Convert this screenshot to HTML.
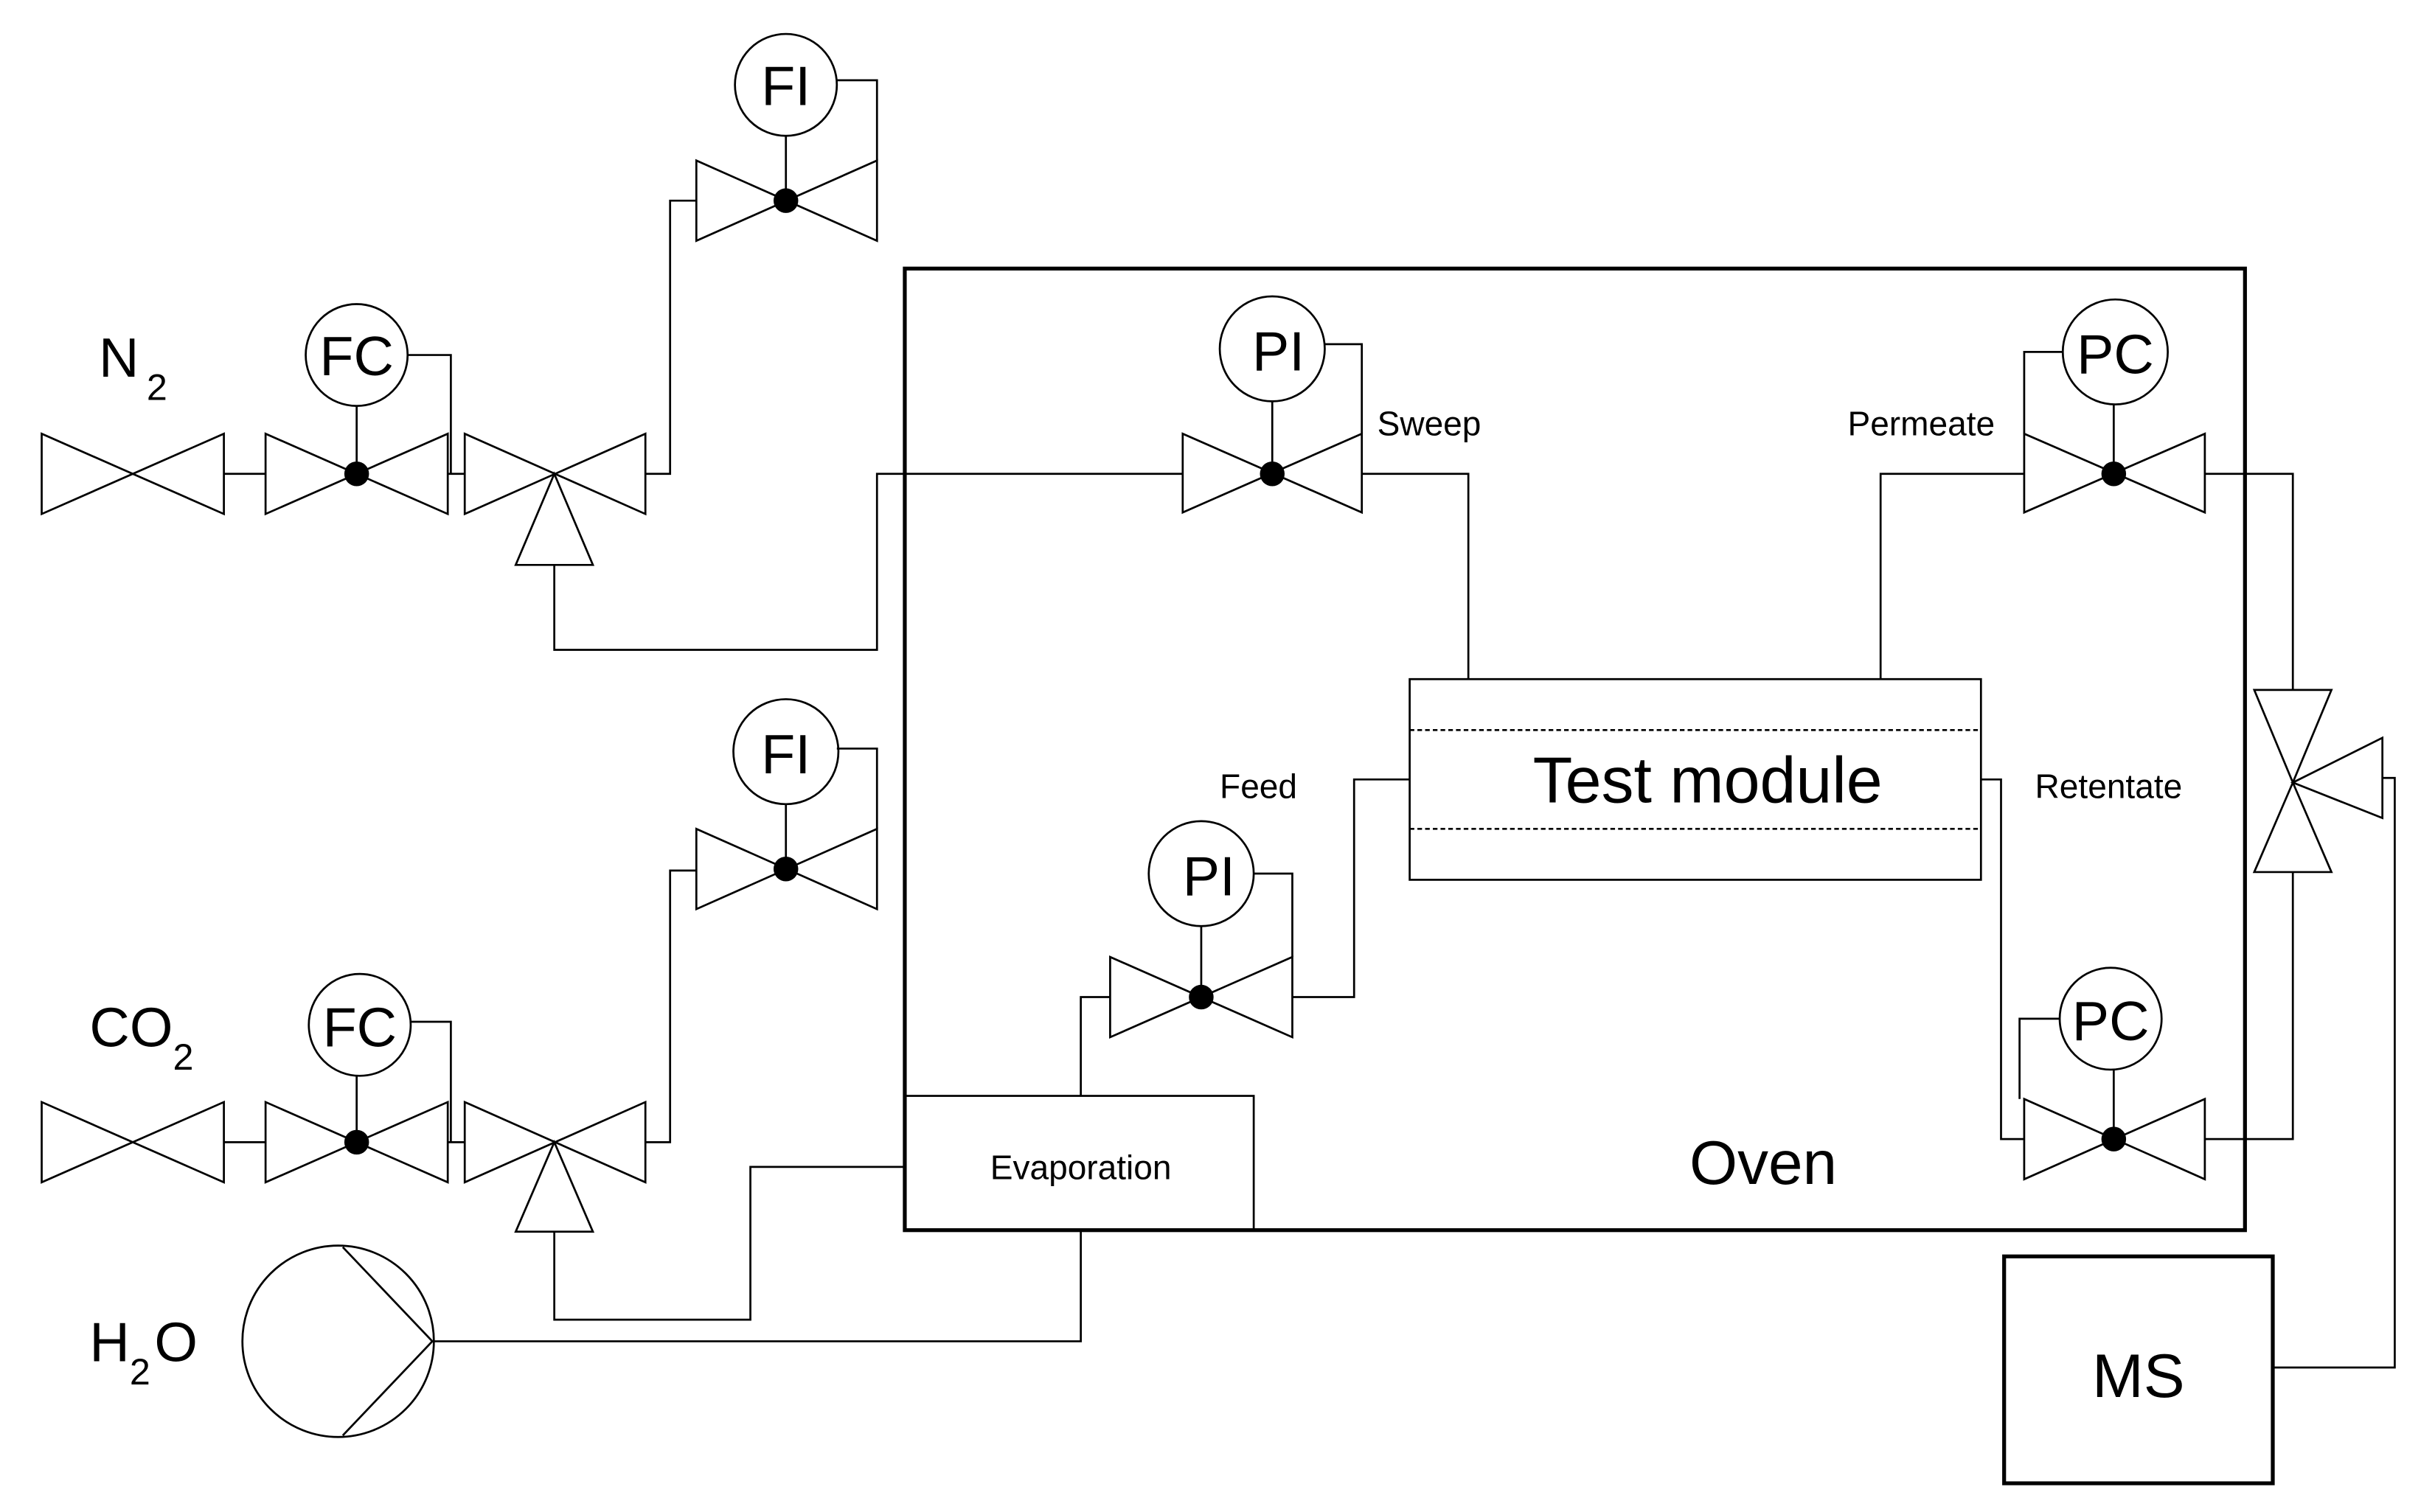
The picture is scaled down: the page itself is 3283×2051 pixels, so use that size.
<!DOCTYPE html>
<html><head><meta charset="utf-8"><style>
html,body{margin:0;padding:0;background:#fff;}
svg{display:block;}
text{font-family:"Liberation Sans",sans-serif;fill:#000;}
</style></head><body>
<svg width="3283" height="2051" viewBox="0 0 1568 979.6" preserveAspectRatio="none" xmlns="http://www.w3.org/2000/svg">
<g fill="none" stroke="#000" stroke-width="1.3">
<!-- N2 row -->
<path d="M27,281 L27,333 L145,281 L145,333 Z"/>
<line x1="145" y1="307" x2="172" y2="307"/>
<path d="M172,281 L172,333 L290,281 L290,333 Z"/>
<line x1="231" y1="263" x2="231" y2="307"/>
<circle cx="231" cy="230" r="33" fill="#fff"/>
<polyline points="264,230 292,230 292,307"/>
<line x1="290" y1="307" x2="301" y2="307"/>
<path d="M301,281 L301,333 L418,281 L418,333 Z"/>
<path d="M359,307 L334,366 L384,366 Z" fill="#fff"/>
<polyline points="418,307 434,307 434,130 451,130"/>
<path d="M451,104 L451,156 L568,104 L568,156 Z"/>
<line x1="509" y1="88" x2="509" y2="130"/>
<circle cx="509" cy="55" r="33" fill="#fff"/>
<polyline points="542,52 568,52 568,104"/>
<polyline points="359,366 359,421 568,421 568,307 766,307"/>
<!-- Sweep -->
<path d="M766,281 L766,332 L882,281 L882,332 Z"/>
<line x1="824" y1="260" x2="824" y2="307"/>
<circle cx="824" cy="226" r="34" fill="#fff"/>
<polyline points="858,223 882,223 882,281"/>
<polyline points="882,307 951,307 951,440"/>
<!-- Test module -->
<rect x="913" y="440" width="370" height="130"/>
<line x1="913" y1="473" x2="1283" y2="473" stroke-dasharray="3,2"/>
<line x1="913" y1="537" x2="1283" y2="537" stroke-dasharray="3,2"/>
<!-- Permeate -->
<polyline points="1218,440 1218,307 1311,307"/>
<path d="M1311,281 L1311,332 L1428,281 L1428,332 Z"/>
<line x1="1369" y1="262" x2="1369" y2="307"/>
<circle cx="1370" cy="228" r="34" fill="#fff"/>
<polyline points="1336,228 1311,228 1311,281"/>
<polyline points="1428,307 1485,307 1485,447"/>
<!-- vertical 3-way -->
<path d="M1460,447 L1510,447 L1485,507 Z"/>
<path d="M1460,565 L1510,565 L1485,507 Z"/>
<path d="M1543,478 L1543,530 L1485,507 Z"/>
<polyline points="1485,565 1485,738 1428,738"/>
<polyline points="1543,504 1551,504 1551,886 1472,886"/>
<!-- Retentate -->
<polyline points="1283,505 1296,505 1296,738 1311,738"/>
<path d="M1311,712 L1311,764 L1428,712 L1428,764 Z"/>
<line x1="1369" y1="693" x2="1369" y2="738"/>
<circle cx="1367" cy="660" r="33" fill="#fff"/>
<polyline points="1334,660 1308,660 1308,712"/>
<!-- Feed -->
<polyline points="913,505 877,505 877,646 837,646"/>
<path d="M719,620 L719,672 L837,620 L837,672 Z"/>
<line x1="778" y1="600" x2="778" y2="646"/>
<circle cx="778" cy="566" r="34" fill="#fff"/>
<polyline points="812,566 837,566 837,620"/>
<polyline points="719,646 700,646 700,710"/>
<rect x="586" y="710" width="226" height="87"/>
<!-- CO2 row -->
<path d="M27,714 L27,766 L145,714 L145,766 Z"/>
<line x1="145" y1="740" x2="172" y2="740"/>
<path d="M172,714 L172,766 L290,714 L290,766 Z"/>
<line x1="231" y1="697" x2="231" y2="740"/>
<circle cx="233" cy="664" r="33" fill="#fff"/>
<polyline points="266,662 292,662 292,740"/>
<line x1="290" y1="740" x2="301" y2="740"/>
<path d="M301,714 L301,766 L418,714 L418,766 Z"/>
<path d="M359,740 L334,798 L384,798 Z" fill="#fff"/>
<polyline points="418,740 434,740 434,564 451,564"/>
<path d="M451,537 L451,589 L568,537 L568,589 Z"/>
<line x1="509" y1="521" x2="509" y2="563"/>
<circle cx="509" cy="487" r="34" fill="#fff"/>
<polyline points="542,485 568,485 568,537"/>
<polyline points="359,798 359,855 486,855 486,756 586,756"/>
<!-- pump -->
<circle cx="219" cy="869" r="62"/>
<line x1="280" y1="869" x2="222" y2="808"/>
<line x1="280" y1="869" x2="222" y2="930"/>
<polyline points="280,869 700,869 700,797"/>
</g>
<g fill="none" stroke="#000" stroke-width="2.5">
<rect x="586" y="174" width="868" height="623"/>
<rect x="1298" y="814" width="174" height="147"/>
</g>
<g fill="#000">
<circle cx="231" cy="307" r="8"/>
<circle cx="509" cy="130" r="8"/>
<circle cx="824" cy="307" r="8"/>
<circle cx="1369" cy="307" r="8"/>
<circle cx="1369" cy="738" r="8"/>
<circle cx="778" cy="646" r="8"/>
<circle cx="231" cy="740" r="8"/>
<circle cx="509" cy="563" r="8"/>
</g>
<g font-size="36" text-anchor="middle">
<text x="231" y="243">FC</text>
<text x="509" y="68">FI</text>
<text x="828" y="240">PI</text>
<text x="1370" y="242">PC</text>
<text x="1367" y="674">PC</text>
<text x="783" y="580">PI</text>
<text x="233" y="678">FC</text>
<text x="509" y="501">FI</text>
</g>
<text x="64" y="244" font-size="36">N</text><text x="95" y="259" font-size="24">2</text>
<text x="58" y="678" font-size="36">CO</text><text x="112" y="693" font-size="24">2</text>
<text x="58" y="882" font-size="36">H</text><text x="84" y="897" font-size="24">2</text><text x="100" y="882" font-size="36">O</text>
<g font-size="22">
<text x="892" y="282">Sweep</text>
<text x="1292" y="282" text-anchor="end">Permeate</text>
<text x="790" y="517">Feed</text>
<text x="1318" y="517">Retentate</text>
<text x="700" y="764" text-anchor="middle">Evaporation</text>
</g>
<text x="1106" y="520" font-size="42" text-anchor="middle">Test module</text>
<text x="1142" y="767" font-size="40" text-anchor="middle">Oven</text>
<text x="1385" y="905" font-size="40" text-anchor="middle">MS</text>
</svg>
</body></html>
